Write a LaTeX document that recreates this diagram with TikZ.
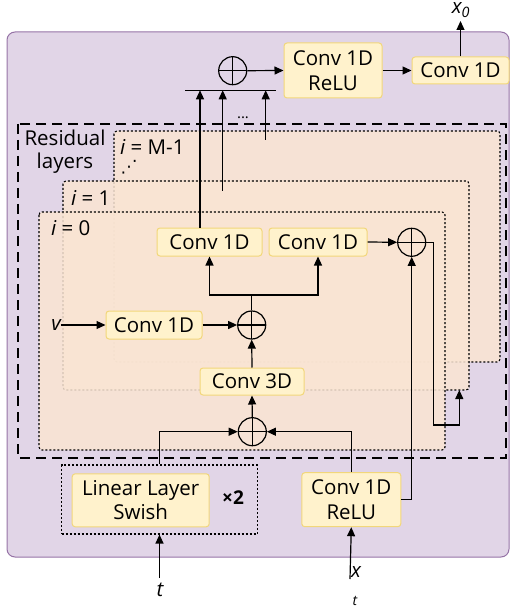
\documentclass[tikz,border=0pt]{standalone}
\usepackage{fontspec}
\setmainfont{Open Sans}
\newfontfamily\symfont{DejaVu Sans}
\usetikzlibrary{arrows.meta,calc}
\definecolor{purpfill}{HTML}{E1D5E7}
\definecolor{purpline}{HTML}{9673A6}
\definecolor{yelfill}{HTML}{FFF2CC}
\definecolor{yelline}{HTML}{F2D77A}
\definecolor{peach}{HTML}{FAE5D3}
\begin{document}
\begin{tikzpicture}[x=1pt,y=-1pt,
  font=\fontsize{20.5}{24.5}\selectfont,
  box/.style={draw=yelline, fill=yelfill, rounded corners=3pt, line width=1pt, inner sep=0pt, align=center},
  layerbox/.style={draw, line width=1.1pt, dash pattern=on 2pt off 2pt, fill=peach, fill opacity=0.85, rounded corners=3pt},
  arr/.style={-{Triangle[length=9pt,width=8pt]}, line width=1.2pt},
  ln/.style={line width=1.2pt},
  lbl/.style={inner sep=0pt},
  oplus/.style={circle, draw, line width=1.2pt, minimum size=28pt, inner sep=0pt,
    path picture={\draw[line width=1.2pt] (path picture bounding box.north)--(path picture bounding box.south)
      (path picture bounding box.west)--(path picture bounding box.east);}}
]
\useasboundingbox (0,0) rectangle (510,612);
% outer frame
\draw[draw=purpline, fill=purpfill, rounded corners=8pt, line width=1pt] (7,32) rectangle (509,557);
% residual layers
\draw[layerbox] (114,131) rectangle (500,362);
\draw[layerbox] (63,181) rectangle (469,390);
\draw[layerbox] (39,212) rectangle (445,450);
\draw[line width=1.3pt, dash pattern=on 10pt off 6pt] (18,124) rectangle (506,458);

\node[align=center, font=\fontsize{20.5}{23}\selectfont] (reslab) at (65,152) {Residual\\layers};
\node[anchor=west, lbl] (lm) at (120,147) {{\itshape i} = M-1};
\node[lbl, font=\symfont\fontsize{17}{17}\selectfont] (ldots) at (129,167) {⋰};
\node[anchor=west, lbl] (l1) at (71,198) {{\itshape i} = 1};
\node[anchor=west, lbl] (l0) at (51,228) {{\itshape i} = 0};

% top part
\node[oplus] (opT) at (232.7,70.7) {};
\node[box, minimum width=98pt, minimum height=55pt] (cr1) at (333,70.5) {Conv 1D\\ReLU};
\node[box, minimum width=97pt, minimum height=27pt] (c1top) at (460.5,70.5) {Conv 1D};
\coordinate (x0a) at (460.5,21);
\node[lbl] (x0) at (461,10) {\itshape x\textsubscript{0}};
\draw[arr] (opT.east) -- (cr1.west);
\draw[arr] (cr1.east) -- (c1top.west);
\draw[arr] (c1top.north) -- (x0a);

\coordinate (barL) at (185,90.3);
\coordinate (barR) at (276,90.3);
\draw[ln] (barL) -- (barR);
\coordinate (b1) at (200,90.3);
\coordinate (b2) at (222.7,90.3);
\coordinate (b3) at (265.7,90.3);
\coordinate (s2) at (222.7,190.7);
\coordinate (s3) at (265.7,140);
\node[anchor=base, lbl, font=\fontsize{15}{15}\selectfont] (dd) at (243,119) {...};

% layer 0 content
\node[box, minimum width=105pt, minimum height=28pt] (c1a) at (209.5,242) {Conv 1D};
\node[box, minimum width=98pt, minimum height=28pt] (c1b) at (318,242) {Conv 1D};
\node[oplus] (opR) at (411.7,242.3) {};
\node[oplus] (opM) at (251.7,325) {};
\node[box, minimum width=96pt, minimum height=28pt] (cv) at (154,325) {Conv 1D};
\node[lbl] (v) at (56,325) {\itshape v};
\node[box, minimum width=104pt, minimum height=27pt] (c3) at (252,381.5) {Conv 3D};
\node[oplus] (opB) at (252.3,431.7) {};

\draw[arr] (c1a.north -| b1) -- (b1);
\draw[arr] (s2) -- (b2);
\draw[arr] (s3) -- (b3);

\coordinate (sp) at (251.7,295);
\draw[ln] (opM.north) -- (sp);
\draw[arr] (sp) -| (c1a.south);
\draw[arr] (sp) -| (c1b.south);
\draw[arr] (v.east) -- (cv.west);
\draw[arr] (cv.east) -- (opM.west);
\draw[arr] (c3.north) -- (opM.south);
\draw[arr] (opB.north) -- (c3.south);
\draw[arr] (c1b.east) -- (opR.west);
\coordinate (r1) at (433.3,425);
\coordinate (r2) at (459.3,390);
\draw[arr] (opR.east) -| (r1) -- (r1 -| r2) -- (r2);

% bottom
\node[draw, line width=1.1pt, dash pattern=on 2pt off 2pt, minimum width=195.6pt, minimum height=69pt, inner sep=0pt] (linbox) at (159.5,499.5) {};
\node[box, minimum width=137pt, minimum height=53pt] (lin) at (140.7,500.3) {Linear Layer\\Swish};
\node[lbl, font=\bfseries\fontsize{19}{20}\selectfont] (x2) at (233,498) {×2};
\node[box, minimum width=99pt, minimum height=54pt] (crb) at (351.3,499.7) {Conv 1D\\ReLU};

\draw[arr] (linbox.north) |- (opB.west);
\draw[arr] (crb.north) |- (opB.east);
\draw[arr] (crb.east) -| (opR.south);

\node[lbl] (t) at (160,590) {\itshape t};
\coordinate (ta) at (159.5,578);
\draw[arr] (ta) -- (linbox.south);
\node[lbl] (xl) at (356,572) {\itshape x};
\node[lbl, font=\fontsize{14}{14}\selectfont] (tl) at (355,601) {\itshape t};
\coordinate (xa) at (350,579);
\draw[arr] (xa) -- (crb.south);
\end{tikzpicture}
\end{document}
